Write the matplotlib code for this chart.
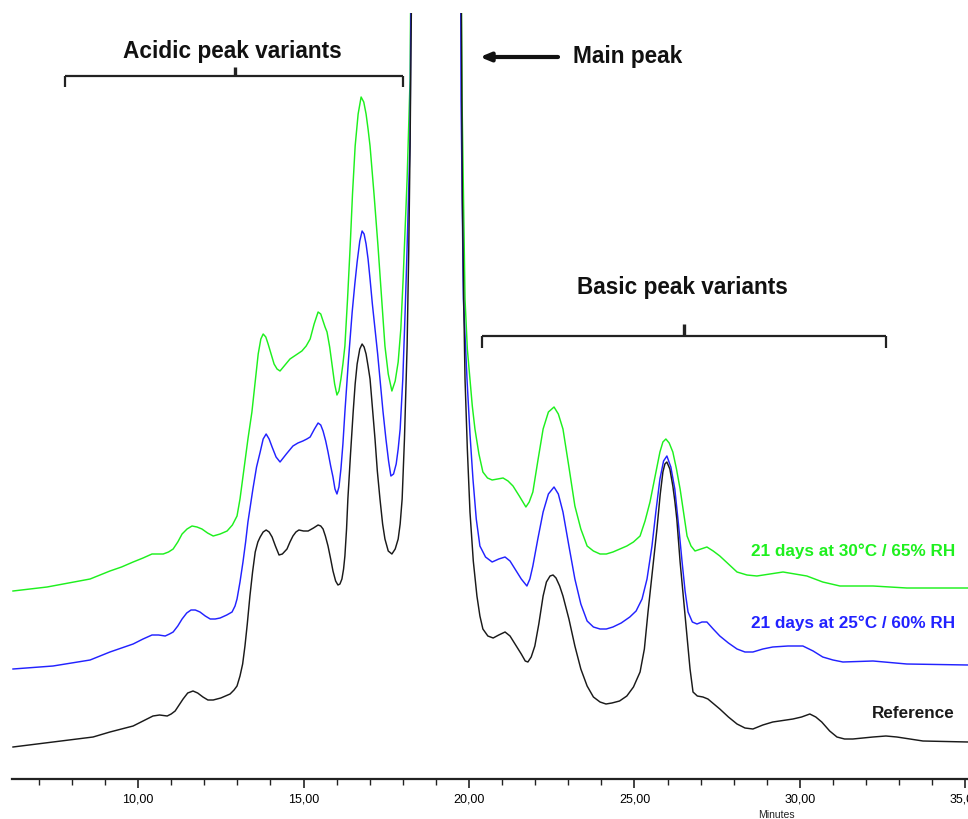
import matplotlib
matplotlib.use("Agg")
import matplotlib.pyplot as plt
from matplotlib import font_manager

# ---------------- data (retention time in minutes, detector signal in arbitrary units) ----------
ref_time = [6.22, 7.43, 8.64, 9.15, 9.50, 9.85, 10.15, 10.45, 10.65, 10.88, 11.00, 11.12, 11.24,
            11.36, 11.50, 11.66, 11.80, 11.96, 12.11, 12.27, 12.50, 12.78, 12.90, 12.99, 13.08,
            13.16, 13.23, 13.30, 13.38, 13.46, 13.54, 13.62, 13.69, 13.78, 13.87, 13.96, 14.05,
            14.15, 14.26, 14.36, 14.50, 14.59, 14.68, 14.77, 14.86, 15.00, 15.14, 15.30, 15.44,
            15.52, 15.59, 15.66, 15.74, 15.82, 15.89, 15.97, 16.04, 16.10, 16.16, 16.21, 16.25,
            16.30, 16.34, 16.42, 16.50, 16.56, 16.62, 16.70, 16.77, 16.83, 16.89, 16.95, 17.01,
            17.08, 17.16, 17.23, 17.31, 17.39, 17.46, 17.56, 17.67, 17.77, 17.86, 17.92, 17.98,
            18.05, 18.13, 18.18, 18.22, 18.26, 18.29, 19.00, 19.74, 19.77, 19.80, 19.84, 19.88,
            19.95, 20.03, 20.13, 20.24, 20.33, 20.42, 20.57, 20.73, 20.90, 21.09, 21.24, 21.39,
            21.58, 21.70, 21.78, 21.88, 21.99, 22.11, 22.24, 22.34, 22.45, 22.54, 22.63, 22.74,
            22.84, 23.02, 23.20, 23.38, 23.57, 23.76, 23.96, 24.14, 24.32, 24.55, 24.77, 24.97,
            25.17, 25.30, 25.41, 25.55, 25.68, 25.78, 25.86, 25.92, 25.98, 26.07, 26.16, 26.22,
            26.28, 26.38, 26.49, 26.59, 26.68, 26.77, 26.90, 27.07, 27.22, 27.40, 27.58, 27.84,
            28.10, 28.34, 28.58, 28.88, 29.18, 29.79, 30.05, 30.30, 30.48, 30.66, 30.90, 31.12,
            31.35, 31.60, 32.21, 32.60, 32.93, 33.72, 35.08]
ref_signal = [32, 37, 42, 47, 50, 53, 58, 63, 64, 63, 65, 68, 74,
              80, 86, 88, 86, 82, 79, 79, 81, 85, 89, 93, 103,
              115, 133, 155, 183, 207, 227, 237, 242, 247, 249, 247, 242,
              233, 224, 225, 230, 237, 243, 247, 249, 248, 248, 251, 254,
              253, 250, 243, 233, 220, 208, 198, 194, 195, 200, 210, 223,
              250, 280, 325, 367, 395, 415, 430, 435, 432, 425, 413, 400,
              372, 340, 308, 280, 255, 240, 228, 225, 230, 240, 255, 280,
              340, 433, 530, 633, 766, 980, 2500, 980, 766, 580, 480, 400,
              330, 267, 218, 183, 163, 150, 143, 141, 144, 147, 143, 135,
              125, 118, 117, 122, 133, 155, 183, 197, 203, 204, 201, 193,
              183, 160, 133, 110, 93, 82, 77, 75, 76, 78, 83, 92,
              107, 130, 167, 210, 250, 285, 307, 315, 317, 310, 293, 278,
              260, 217, 178, 143, 110, 87, 83, 82, 80, 75, 70, 62,
              55, 51, 50, 54, 57, 60, 62, 65, 62, 57, 48, 42,
              40, 40, 42, 43, 42, 38, 37]

d25_time = [6.22, 7.43, 8.55, 9.15, 9.50, 9.85, 10.15, 10.42, 10.62, 10.82, 10.95, 11.06, 11.20,
            11.33, 11.47, 11.60, 11.73, 11.87, 12.03, 12.18, 12.33, 12.48, 12.68, 12.84, 12.93,
            12.99, 13.08, 13.17, 13.25, 13.32, 13.40, 13.47, 13.58, 13.69, 13.78, 13.87, 13.96,
            14.05, 14.17, 14.29, 14.48, 14.68, 14.83, 14.98, 15.10, 15.20, 15.33, 15.44, 15.52,
            15.59, 15.67, 15.74, 15.82, 15.89, 15.95, 16.01, 16.07, 16.13, 16.19, 16.25, 16.36,
            16.47, 16.55, 16.62, 16.70, 16.77, 16.83, 16.89, 16.95, 17.01, 17.08, 17.16, 17.24,
            17.31, 17.40, 17.49, 17.57, 17.64, 17.72, 17.80, 17.86, 17.92, 18.00, 18.07, 18.12,
            18.16, 18.22, 18.28, 19.00, 19.73, 19.76, 19.83, 19.94, 20.03, 20.12, 20.22, 20.33,
            20.50, 20.70, 20.90, 21.09, 21.24, 21.39, 21.58, 21.75, 21.84, 21.93, 22.08, 22.24,
            22.40, 22.57, 22.70, 22.84, 23.02, 23.20, 23.38, 23.57, 23.76, 23.96, 24.15, 24.35,
            24.60, 24.86, 25.05, 25.23, 25.38, 25.53, 25.65, 25.77, 25.88, 25.98, 26.10, 26.22,
            26.33, 26.44, 26.53, 26.62, 26.75, 26.89, 27.04, 27.19, 27.38, 27.58, 27.84, 28.10,
            28.34, 28.58, 28.88, 29.18, 29.64, 30.09, 30.40, 30.69, 31.00, 31.30, 32.21, 33.23,
            35.08]
d25_signal = [110, 113, 119, 127, 131, 135, 140, 144, 144, 143, 145, 147, 153,
              160, 166, 169, 169, 167, 163, 160, 160, 161, 164, 167, 173,
              180, 197, 217, 237, 257, 275, 290, 312, 327, 340, 345, 340,
              332, 322, 317, 325, 333, 336, 338, 340, 342, 350, 356, 354,
              348, 338, 327, 313, 302, 290, 285, 292, 310, 335, 367, 420,
              467, 495, 517, 538, 548, 545, 535, 520, 500, 475, 450, 425,
              400, 368, 340, 318, 303, 305, 315, 330, 350, 400, 467, 520,
              567, 640, 980, 2500, 980, 680, 480, 400, 345, 300, 260, 233,
              222, 217, 220, 222, 218, 210, 200, 193, 200, 213, 240, 267,
              285, 292, 285, 267, 233, 200, 175, 158, 152, 150, 150, 152,
              156, 162, 168, 180, 200, 233, 268, 300, 318, 323, 312, 290,
              255, 217, 188, 167, 157, 155, 157, 157, 150, 143, 136, 130,
              127, 127, 130, 132, 133, 133, 128, 122, 119, 117, 118, 115,
              114]

d30_time = [6.22, 7.25, 8.55, 9.15, 9.50, 9.85, 10.15, 10.42, 10.60, 10.76, 10.92, 11.06, 11.20,
            11.33, 11.48, 11.63, 11.78, 11.93, 12.10, 12.27, 12.48, 12.69, 12.85, 12.99, 13.08,
            13.20, 13.32, 13.44, 13.54, 13.63, 13.71, 13.78, 13.86, 13.93, 14.02, 14.11, 14.20,
            14.29, 14.44, 14.59, 14.77, 14.95, 15.08, 15.20, 15.32, 15.44, 15.52, 15.59, 15.65,
            15.71, 15.79, 15.86, 15.94, 16.01, 16.07, 16.13, 16.19, 16.25, 16.33, 16.41, 16.48,
            16.56, 16.65, 16.74, 16.82, 16.89, 16.95, 17.01, 17.13, 17.25, 17.36, 17.46, 17.56,
            17.67, 17.77, 17.86, 17.94, 18.01, 18.07, 18.13, 18.22, 18.28, 19.00, 19.73, 19.79,
            19.88, 19.95, 20.03, 20.10, 20.18, 20.30, 20.42, 20.56, 20.70, 20.87, 21.03, 21.18,
            21.33, 21.52, 21.72, 21.82, 21.93, 22.08, 22.24, 22.40, 22.57, 22.70, 22.84, 23.02,
            23.20, 23.38, 23.57, 23.76, 23.96, 24.15, 24.35, 24.56, 24.77, 24.97, 25.17, 25.32,
            25.47, 25.62, 25.77, 25.86, 25.95, 26.05, 26.16, 26.27, 26.38, 26.49, 26.59, 26.71,
            26.83, 27.01, 27.19, 27.38, 27.58, 27.84, 28.10, 28.40, 28.70, 29.10, 29.49, 29.85,
            30.21, 30.45, 30.69, 30.95, 31.21, 32.21, 33.23, 35.08]
d30_signal = [188, 192, 200, 208, 212, 217, 221, 225, 225, 225, 227, 230, 237,
              245, 250, 253, 252, 250, 246, 243, 245, 248, 254, 263, 280,
              310, 340, 367, 398, 425, 440, 445, 442, 435, 425, 415, 410,
              408, 414, 420, 424, 428, 433, 440, 455, 467, 465, 458, 452,
              447, 432, 415, 395, 384, 388, 400, 415, 433, 480, 533, 585,
              633, 665, 682, 677, 665, 650, 633, 585, 533, 480, 433, 405,
              388, 398, 417, 450, 500, 550, 600, 700, 980, 2500, 980, 680,
              480, 430, 400, 373, 350, 325, 307, 301, 299, 300, 301, 298,
              293, 283, 272, 277, 287, 318, 350, 367, 372, 365, 350, 312,
              273, 250, 233, 228, 225, 225, 227, 230, 233, 237, 243, 258,
              277, 302, 327, 337, 340, 336, 327, 310, 290, 265, 243, 233,
              228, 230, 232, 228, 223, 215, 207, 204, 203, 205, 207, 205,
              203, 200, 197, 195, 193, 193, 191, 191]

major_ticks = [10, 15, 20, 25, 30, 35]
major_labels = ["10,00", "15,00", "20,00", "25,00", "30,00", "35,00"]
minor_ticks = list(range(7, 36))

trace_labels = ["21 days at 30°C / 65% RH", "21 days at 25°C / 60% RH", "Reference"]

# ---------------- fonts ----------------
avail = {f.name for f in font_manager.fontManager.ttflist}
main_font = "Liberation Sans" if "Liberation Sans" in avail else "DejaVu Sans"
narrow_font = "Liberation Sans Narrow" if "Liberation Sans Narrow" in avail else main_font
plt.rcParams["font.family"] = [main_font, "DejaVu Sans"]

# ---------------- figure ----------------
W, H = 968, 820
fig = plt.figure(figsize=(W / 100, H / 100), dpi=100)
ax = fig.add_axes([12 / W, 40 / H, 956 / W, 766 / H])
ax.set_xlim(6.19, 35.08)
ax.set_ylim(0, 766)

GREEN = "#1ef01e"
BLUE = "#2222ff"
BLACK = "#1a1a1a"

ax.plot(d30_time, d30_signal, color=GREEN, lw=1.05, solid_joinstyle="round")
ax.plot(d25_time, d25_signal, color=BLUE, lw=1.05, solid_joinstyle="round")
ax.plot(ref_time, ref_signal, color=BLACK, lw=1.05, solid_joinstyle="round")

for s in ["top", "right", "left"]:
    ax.spines[s].set_visible(False)
ax.spines["bottom"].set_linewidth(1.6)
ax.spines["bottom"].set_color("#222222")
ax.set_yticks([])
ax.set_xticks(major_ticks)
ax.set_xticklabels(major_labels, fontfamily=narrow_font, fontsize=9)
ax.set_xticks(minor_ticks, minor=True)
ax.tick_params(axis="x", which="major", direction="out", length=6.5, width=1.2, color="#222222", pad=3)
ax.tick_params(axis="x", which="minor", direction="out", length=4, width=1.0, color="#222222")

fig.text(776 / W, 1 - 815 / H, "Minutes", ha="center", va="center", fontsize=7.5,
         fontfamily=narrow_font, color="#222222")

# ---------------- annotations ----------------
big = dict(fontsize=16.3, fontweight="bold", color="#111111")
ax.text(12.84, 728, "Acidic peak variants", ha="center", va="center", **big)
ax.text(26.44, 492, "Basic peak variants", ha="center", va="center", **big)
ax.text(23.14, 723, "Main peak", ha="left", va="center", **big)
ax.annotate("", xy=(20.33, 722), xytext=(22.69, 722),
            arrowprops=dict(arrowstyle="-|>,head_length=0.6,head_width=0.25", lw=3, color="#111111",
                            shrinkA=0, shrinkB=0))


def bracket(x0, x1, xm, y, ydown, yup):
    kw = dict(color="#222222", lw=1.6, solid_capstyle="butt")
    ax.plot([x0, x1], [y, y], **kw)
    ax.plot([x0, x0], [y, ydown], **kw)
    ax.plot([x1, x1], [y, ydown], **kw)
    ax.plot([xm, xm], [y, yup], color="#222222", lw=2.4, solid_capstyle="butt")


bracket(7.80, 18.01, 12.93, 703, 692, 712)
bracket(20.39, 32.60, 26.50, 443, 431, 455)

lab = dict(fontsize=12.3, fontweight="bold", ha="right", va="center")
ax.text(34.68, 229, trace_labels[0], color=GREEN, **lab)
ax.text(34.68, 157, trace_labels[1], color=BLUE, **lab)
ax.text(34.68, 66, trace_labels[2], color=BLACK, **lab)

fig.savefig("out.png", dpi=100, facecolor="white")
